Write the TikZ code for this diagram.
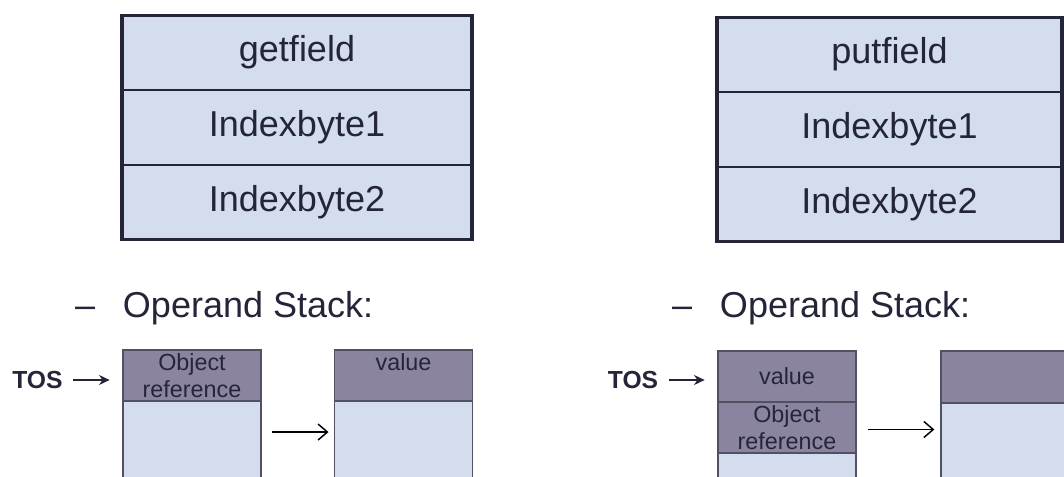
\documentclass[tikz,border=0pt]{standalone}
\usepackage{fontspec}
\setmainfont{Liberation Sans}
\usetikzlibrary{arrows.meta}
\definecolor{cellblue}{HTML}{D3DDEE}
\definecolor{topgray}{HTML}{8A84A0}
\definecolor{ink}{HTML}{25253A}
\begin{document}
\begin{tikzpicture}[x=0.75pt,y=-0.75pt,
  every node/.style={inner sep=0pt, outer sep=0pt, text=ink},
  instr/.style={draw=ink, line width=1.3pt, fill=cellblue, rectangle,
    minimum width=#1, minimum height=56pt, font=\fontsize{27}{30}\selectfont},
  frame/.style={draw=ink, line width=2.4pt},
  heading/.style={anchor=base west, font=\fontsize{27}{32}\selectfont},
  slotfull/.style={draw=ink!80, line width=1pt, fill=topgray, rectangle,
    minimum width=103.5pt, align=center, font=\fontsize{17.5}{20}\selectfont},
  slotfree/.style={draw=ink!80, line width=1pt, fill=cellblue, rectangle,
    minimum width=103.5pt},
  tos/.style={font=\fontsize{18.5}{20}\selectfont\bfseries},
  pointer/.style={-{Stealth[length=8pt,width=7.5pt]}, line width=1.6pt, draw=ink},
  step arrow/.style={-{Straight Barb[length=7pt,width=12pt]}, line width=1.1pt, draw=black},
]
\useasboundingbox (0,0) rectangle (1064,477);
\fill[white] (0,0) rectangle (1064,477);
\clip (0,0) rectangle (1064,477);

% getfield instruction format
\node[instr=262.5pt] (g1) at (297,52.5) {getfield};
\node[instr=262.5pt] (g2) at (297,127.5) {Indexbyte1};
\node[instr=262.5pt] (g3) at (297,202.5) {Indexbyte2};
\draw[frame] (g1.north west) rectangle (g3.south east);

% putfield instruction format
\node[instr=258.75pt] (p1) at (889.5,54.5) {putfield};
\node[instr=258.75pt] (p2) at (889.5,129.5) {Indexbyte1};
\node[instr=258.75pt] (p3) at (889.5,204.5) {Indexbyte2};
\draw[frame] (p1.north west) rectangle (p3.south east);

% headings
\node[heading] (hl) at (75,318) {–\hspace{21pt}Operand Stack:};
\node[heading] (hr) at (672,318) {–\hspace{21pt}Operand Stack:};

% getfield: operand stack before
\node[slotfull, minimum height=38.25pt] (lA1) at (192,375.5) {Object\\reference};
\node[slotfree, minimum height=66.75pt] (lA2) at (192,445.5) {};
% getfield: operand stack after
\node[slotfull, minimum height=38.25pt] (lB1) at (403.5,375.5) {};
\node[anchor=north, font=\fontsize{17.5}{20}\selectfont] (lBv) at ([yshift=-3pt]lB1.north) {value};
\node[slotfree, minimum height=66.75pt] (lB2) at (403.5,445.5) {};

\node[tos] (tl) at (37.5,380) {TOS};
\draw[pointer, shorten <=8pt, shorten >=10pt] (tl.east) -- (tl.east -| lA1.west);
\draw[step arrow, shorten <=8.25pt, shorten >=4.5pt]
  ([yshift=10.1pt]lA2.east) -- ([yshift=10.1pt]lB2.west);

% putfield: operand stack before
\node[slotfull, minimum height=38.25pt] (rA1) at (787,376.5) {value};
\node[slotfull, minimum height=38.25pt] (rA2) at (787,427.5) {Object\\reference};
\node[slotfree, minimum height=27.75pt] (rA3) at (787,471.5) {};
% putfield: operand stack after
\node[slotfull, minimum height=39pt] (rB1) at (1010,377) {};
\node[slotfree, minimum height=66pt] (rB2) at (1010,447) {};

\node[tos] (tr) at (633,380) {TOS};
\draw[pointer, shorten <=8pt, shorten >=10pt] (tr.east) -- (tr.east -| rA1.west);
\draw[step arrow, shorten <=9pt, shorten >=5pt]
  ([yshift=-1.5pt]rA2.east) -- ([yshift=-1.5pt]rA2.east -| rB2.west);
\end{tikzpicture}
\end{document}
